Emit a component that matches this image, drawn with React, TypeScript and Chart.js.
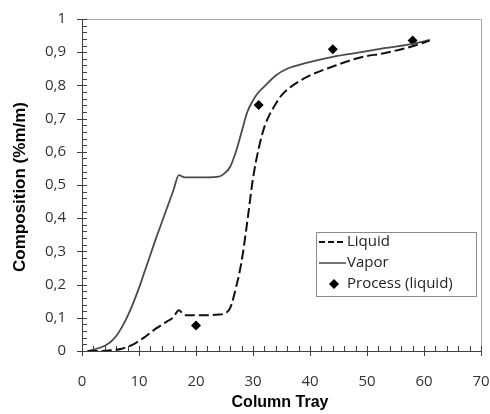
import React, { useEffect, useRef } from 'react';
import { Chart, registerables } from 'chart.js';

Chart.register(...registerables);

const liquidX = [1, 3, 5, 7, 9, 11, 13, 15, 16, 17, 18, 20, 22, 24, 25, 26, 27, 28, 29, 30, 31, 32, 33, 34, 35, 37, 40, 44, 49, 53, 58, 61];
const liquidY = [0, 0, 0.002, 0.007, 0.02, 0.042, 0.068, 0.09, 0.101, 0.123, 0.108, 0.108, 0.108, 0.11, 0.113, 0.13, 0.19, 0.27, 0.39, 0.52, 0.61, 0.675, 0.715, 0.745, 0.77, 0.8, 0.83, 0.857, 0.885, 0.897, 0.918, 0.935];

const vaporX = [1, 2, 3, 4, 5, 6, 7, 8, 9, 10, 11, 12, 13, 14, 15, 16, 17, 18, 20, 22, 24, 25, 26, 27, 28, 29, 30, 31, 32, 34, 36, 39, 44, 49, 53, 58, 61];
const vaporY = [0, 0.004, 0.009, 0.016, 0.027, 0.045, 0.072, 0.105, 0.145, 0.19, 0.24, 0.29, 0.34, 0.387, 0.435, 0.482, 0.53, 0.523, 0.523, 0.523, 0.525, 0.535, 0.555, 0.6, 0.66, 0.72, 0.755, 0.78, 0.797, 0.83, 0.85, 0.866, 0.886, 0.9, 0.912, 0.925, 0.937];

const processX = [20, 31, 44, 58];
const processY = [0.077, 0.741, 0.909, 0.935];

const seriesLabels = ['Liquid', 'Vapor', 'Process (liquid)'];
const xTitle = 'Column Tray';
const yTitle = 'Composition (%m/m)';

const toPoints = (xs: number[], ys: number[]) => xs.map((x, i) => ({ x, y: ys[i] }));

const decorPlugin = {
  id: 'decor',
  beforeDatasetsDraw(chart: any) {
    const { ctx, chartArea: a, scales } = chart;
    const xs = scales.x;
    const ys = scales.y;
    ctx.save();
    ctx.strokeStyle = '#a8a8a8';
    ctx.lineWidth = 1;
    ctx.beginPath();
    ctx.moveTo(a.left, a.top + 0.5);
    ctx.lineTo(a.right + 0.5, a.top + 0.5);
    ctx.lineTo(a.right + 0.5, a.bottom);
    ctx.stroke();
    ctx.strokeStyle = '#404040';
    ctx.beginPath();
    ctx.moveTo(a.left + 0.5, a.top);
    ctx.lineTo(a.left + 0.5, a.bottom + 0.5);
    ctx.lineTo(a.right, a.bottom + 0.5);
    ctx.stroke();
    ctx.beginPath();
    for (let v = 0; v <= 70; v += 2) {
      const px = Math.round(xs.getPixelForValue(v)) + 0.5;
      const major = v % 10 === 0;
      ctx.moveTo(px, a.bottom - 5);
      ctx.lineTo(px, a.bottom + (major ? 5 : 0));
    }
    for (let i = 0; i <= 50; i++) {
      const v = i / 50;
      const py = Math.round(ys.getPixelForValue(v)) + 0.5;
      const major = i % 5 === 0;
      ctx.moveTo(a.left - (major ? 5 : 0), py);
      ctx.lineTo(a.left + 5, py);
    }
    ctx.stroke();
    ctx.restore();
  },
  afterDraw(chart: any) {
    const { ctx } = chart;
    ctx.save();
    ctx.fillStyle = '#000';
    ctx.font = 'bold 16px "Liberation Sans", Arial, sans-serif';
    ctx.textAlign = 'center';
    ctx.textBaseline = 'middle';
    ctx.fillText(xTitle, 280, 403);
    ctx.font = 'bold 17px "Liberation Sans", Arial, sans-serif';
    ctx.translate(20, 187);
    ctx.rotate(-Math.PI / 2);
    ctx.fillText(yTitle, 0, 0);
    ctx.restore();

    ctx.save();
    const bx = 316, by = 232, bw = 160, bh = 64;
    ctx.fillStyle = '#fff';
    ctx.fillRect(bx, by, bw, bh);
    ctx.strokeStyle = '#8a8a8a';
    ctx.lineWidth = 1;
    ctx.strokeRect(bx + 0.5, by + 0.5, bw, bh);
    ctx.font = '15px "Open Sans", sans-serif';
    ctx.textBaseline = 'middle';
    ctx.textAlign = 'left';
    const rows = [242, 263, 284];
    ctx.strokeStyle = '#111';
    ctx.lineWidth = 2;
    ctx.setLineDash([6, 3]);
    ctx.beginPath();
    ctx.moveTo(319, rows[0]);
    ctx.lineTo(346, rows[0]);
    ctx.stroke();
    ctx.setLineDash([]);
    ctx.strokeStyle = '#444';
    ctx.lineWidth = 1.5;
    ctx.beginPath();
    ctx.moveTo(319, rows[1]);
    ctx.lineTo(346, rows[1]);
    ctx.stroke();
    ctx.fillStyle = '#000';
    ctx.beginPath();
    ctx.moveTo(334, rows[2] - 5);
    ctx.lineTo(339, rows[2]);
    ctx.lineTo(334, rows[2] + 5);
    ctx.lineTo(329, rows[2]);
    ctx.closePath();
    ctx.fill();
    ctx.fillStyle = '#222';
    ctx.fillText(seriesLabels[0], 347, rows[0]);
    ctx.fillText(seriesLabels[1], 347, rows[1]);
    ctx.fillText(seriesLabels[2], 347, rows[2]);
    ctx.restore();
  },
};

export default function App() {
  const ref = useRef<HTMLCanvasElement | null>(null);
  useEffect(() => {
    if (!ref.current) return;
    const chart = new Chart(ref.current, {
      type: 'line',
      data: {
        datasets: [
          {
            label: seriesLabels[0],
            data: toPoints(liquidX, liquidY),
            borderColor: '#111',
            borderWidth: 2,
            borderDash: [10, 4],
            pointRadius: 0,
            cubicInterpolationMode: 'monotone',
            fill: false,
          },
          {
            label: seriesLabels[1],
            data: toPoints(vaporX, vaporY),
            borderColor: '#4a4a4a',
            borderWidth: 1.8,
            pointRadius: 0,
            cubicInterpolationMode: 'monotone',
            fill: false,
          },
          {
            label: seriesLabels[2],
            data: toPoints(processX, processY),
            showLine: false,
            pointStyle: 'rectRot',
            pointRadius: 5,
            backgroundColor: '#000',
            borderColor: '#000',
            borderWidth: 0,
          },
        ],
      },
      options: {
        animation: false,
        responsive: false,
        maintainAspectRatio: false,
        layout: { padding: { left: 0, top: 19, right: 9, bottom: 0 } },
        plugins: { legend: { display: false }, tooltip: { enabled: false } },
        scales: {
          x: {
            type: 'linear',
            min: 0,
            max: 70,
            border: { display: false },
            grid: { display: false },
            ticks: {
              stepSize: 10,
              padding: 14,
              color: '#333',
              font: { family: '"Open Sans", sans-serif', size: 15 },
              maxRotation: 0,
            },
            afterFit: (s: any) => {
              s.height = 63;
              s.paddingLeft = 0;
              s.paddingRight = 0;
            },
          },
          y: {
            type: 'linear',
            min: 0,
            max: 1,
            border: { display: false },
            grid: { display: false },
            ticks: {
              stepSize: 0.1,
              padding: 8,
              color: '#333',
              font: { family: '"Open Sans", sans-serif', size: 15 },
              callback: (v: any) => {
                const n = Number(v);
                if (Math.abs(n) < 1e-9) return '0';
                if (Math.abs(n - 1) < 1e-9) return '1';
                return n.toFixed(1).replace('.', ',');
              },
            },
            afterFit: (s: any) => {
              s.width = 82;
              s.paddingTop = 0;
              s.paddingBottom = 0;
            },
          },
        },
      },
      plugins: [decorPlugin],
    } as any);
    return () => chart.destroy();
  }, []);
  return (
    <div style={{ position: 'fixed', left: 0, top: 0, width: 490, height: 414, background: '#fff' }}>
      <canvas ref={ref} width={490} height={414} style={{ display: 'block', width: 490, height: 414 }} />
    </div>
  );
}
